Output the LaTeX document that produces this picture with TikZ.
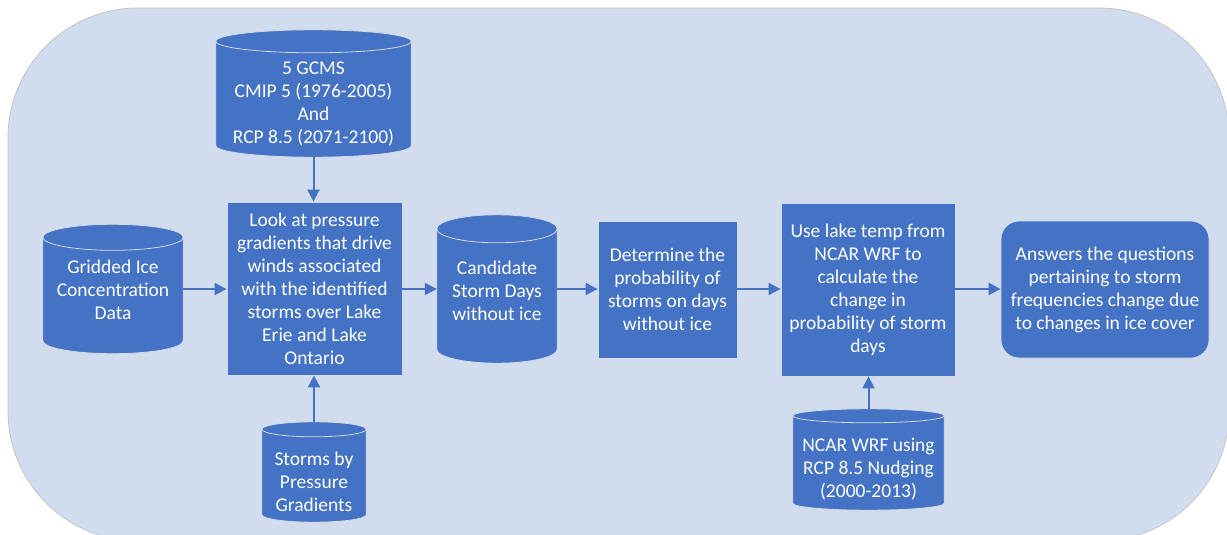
\documentclass[tikz,border=0pt]{standalone}
\usepackage{fontspec}
\setmainfont{Carlito}
\usetikzlibrary{arrows.meta,calc}

\definecolor{boxblue}{HTML}{4472C4}
\definecolor{panelfill}{HTML}{D1DCEF}
\definecolor{panelrim}{HTML}{C4C4C4}
\definecolor{shaperim}{HTML}{D4DAE6}

\tikzset{
  labelfont/.style={font=\fontsize{19.5}{23}\selectfont},
  flowbox/.style={rectangle, fill=boxblue, draw=shaperim, line width=0.8pt,
    text=white, align=center, labelfont, inner sep=0pt},
  canbox/.style={rectangle, inner sep=0pt, draw=none},
  canskin/.style={fill=boxblue, draw=shaperim, line width=0.8pt},
  canrim/.style={draw=shaperim, line width=0.8pt},
  cantext/.style={text=white, align=center, labelfont, inner sep=0pt},
  flow/.style={draw=boxblue, line width=2pt, -{Triangle[length=12pt,width=12pt]}},
}

% #1 = node holding the can's outer extent, #2 = half height of its end ellipses (pt)
\newcommand\candraw[2]{%
  \filldraw[canskin] let \p1=(#1.north west), \p2=(#1.north east), \n1={(\x2-\x1)/2} in
    ([yshift=-#2pt]#1.north west) -- ([yshift=#2pt]#1.south west)
    arc[start angle=180,end angle=360,x radius=\n1,y radius=#2pt]
    -- ([yshift=-#2pt]#1.north east)
    arc[start angle=0,end angle=180,x radius=\n1,y radius=#2pt] -- cycle;
  \draw[canrim] let \p1=(#1.north west), \p2=(#1.north east), \n1={(\x2-\x1)/2} in
    ([yshift=-#2pt]#1.north west)
    arc[start angle=180,end angle=360,x radius=\n1,y radius=#2pt];
}

\begin{document}
\begin{tikzpicture}[x=1pt,y=-1pt]
\useasboundingbox (0,0) rectangle (1227,535);
\clip (0,0) rectangle (1227,535);
\fill[white] (0,0) rectangle (1227,535);

% rounded panel behind the flow
\draw[fill=panelfill, draw=panelrim, line width=0.8pt, rounded corners=130pt]
  (8,8) rectangle (1229,541);

% data sources drawn as cans
\node[canbox, minimum width=195, minimum height=127] (gcm) at (313.5,93.5) {};
\candraw{gcm}{11.5}
\node[cantext] (gcmtxt) at (313.5,104.5)
  {5 GCMS\\CMIP 5 (1976-2005)\\And\\RCP 8.5 (2071-2100)};

\node[canbox, minimum width=140, minimum height=129] (ice) at (113,289) {};
\candraw{ice}{13}
\node[cantext] (icetxt) at (113,289.5)
  {Gridded Ice\\Concentration\\Data};

\node[canbox, minimum width=104, minimum height=100] (storm) at (314,472) {};
\candraw{storm}{7.5}
\node[cantext] (stormtxt) at (314,481.5)
  {Storms by\\Pressure\\Gradients};

\node[canbox, minimum width=120, minimum height=148] (cand) at (497,289) {};
\candraw{cand}{14}
\node[cantext] (candtxt) at (497,290.5)
  {Candidate\\Storm Days\\without ice};

\node[canbox, minimum width=151, minimum height=101] (ncar) at (868.5,459.5) {};
\candraw{ncar}{7}
\node[cantext] (ncartxt) at (868.5,469.5)
  {NCAR WRF using\\RCP 8.5 Nudging\\(2000-2013)};

% process steps
\node[flowbox, minimum width=175, minimum height=173] (look) at (314.5,288.5)
  {Look at pressure\\gradients that drive\\winds associated\\with the identified\\storms over Lake\\Erie and Lake\\Ontario};

\node[flowbox, minimum width=139, minimum height=137] (det) at (667.5,289.5)
  {Determine the\\probability of\\storms on days\\without ice};

\node[flowbox, minimum width=174, minimum height=173] (use) at (868,289.5)
  {Use lake temp from\\NCAR WRF to\\calculate the\\change in\\probability of storm\\days};

\node[flowbox, rounded corners=18pt, minimum width=208, minimum height=137] (ans) at (1105,289.5)
  {Answers the questions\\pertaining to storm\\frequencies change due\\to changes in ice cover};

% connectors
\draw[flow] (gcm.south) -- (gcm.south |- look.north);
\draw[flow] (storm.north) -- (storm.north |- look.south);
\draw[flow] (ice.east) -- (ice.east -| look.west);
\draw[flow] (look.east |- cand.west) -- (cand.west);
\draw[flow] (cand.east) -- (cand.east -| det.west);
\draw[flow] (det.east |- cand.east) -- (cand.east -| use.west);
\draw[flow] (use.east |- cand.east) -- (cand.east -| ans.west);
\draw[flow] (ncar.north) -- (ncar.north |- use.south);
\end{tikzpicture}
\end{document}
